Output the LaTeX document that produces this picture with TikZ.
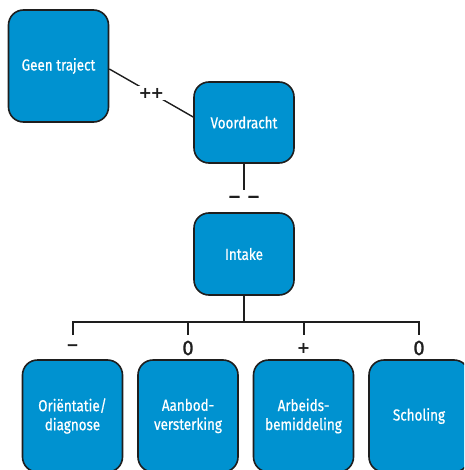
\documentclass[tikz,border=0pt]{standalone}
\usepackage{fontspec}
\setmainfont{Fira Sans}[FakeStretch=0.86]
\newfontfamily\boxfont{Fira Sans}[FakeStretch=0.84, FakeBold=0.6]
\newfontfamily\markfont{Fira Sans}[FakeStretch=0.95, FakeBold=1.5]
\newfontfamily\signfont{DejaVu Sans}
\definecolor{boxblue}{RGB}{0,146,208}
\definecolor{edge}{RGB}{30,30,30}
\tikzset{
  stepbox/.style={draw=edge, line width=1.6pt, fill=boxblue, rounded corners=15pt,
    text=white, align=center, inner sep=0pt, minimum width=100pt,
    font=\boxfont\fontsize{16}{19}\selectfont},
  link/.style={draw=edge, line width=1.4pt},
  bus/.style={draw=edge, line width=2pt},
  mark label/.style={text=edge, font=\markfont\fontsize{21}{23}\selectfont, inner sep=1pt},
  plus label/.style={text=edge, font=\signfont\bfseries\fontsize{16}{18}\selectfont, inner sep=1pt}
}
\begin{document}
\begin{tikzpicture}[x=1pt, y=-1pt]
  \useasboundingbox (0,0) rectangle (464,470);
  \clip (0,0) rectangle (464,470);

  % upper chain
  \node[stepbox, minimum height=112pt] (g) at (58.5,66) {Geen traject};
  \node[stepbox, minimum height=81pt] (v) at (244,122.5) {Voordracht};
  \node[stepbox, minimum height=82pt] (i) at (244,254) {Intake};

  % lower row
  \node[stepbox, minimum height=112pt] (o) at (72.5,416) {Oriëntatie/\\diagnose};
  \node[stepbox, minimum height=112pt] (a) at (188,416) {Aanbod-\\versterking};
  \node[stepbox, minimum height=112pt] (b) at (303.5,416) {Arbeids-\\bemiddeling};
  \node[stepbox, minimum height=112pt] (s) at (419,416) {Scholing};

  % Geen traject -- Voordracht
  \draw[link] ([yshift=-3pt]g.east) -- node[fill=white, plus label, inner sep=2pt] (pp) {+\kern-1.5pt+} ([yshift=5.5pt]v.west);

  % Voordracht -- Intake
  \coordinate (vend) at (244,190);
  \draw[link] (v.south) -- (vend);
  \node[mark label, font=\markfont\fontsize{23}{25}\selectfont] (mm) at (244,200) {–\,\,–};

  % Intake to the four options
  \coordinate (hub) at (244,322);
  \draw[link] (i.south) -- (hub);
  \foreach \n in {o,a,b,s} {
    \coordinate (top-\n) at (\n.north |- hub);
  }
  \draw[bus] ([yshift=-13pt]top-o) -- (top-o) -- (top-s) -- ([yshift=-13pt]top-s);
  \draw[bus] (top-a) -- ([yshift=-13pt]top-a);
  \draw[bus] (top-b) -- ([yshift=-13pt]top-b);
  \node[mark label] (lo) at (72.5,348) {–};
  \node[mark label] (la) at (188,348) {0};
  \node[plus label] (lb) at (303.5,348) {+};
  \node[mark label] (ls) at (419,348) {0};
\end{tikzpicture}
\end{document}
